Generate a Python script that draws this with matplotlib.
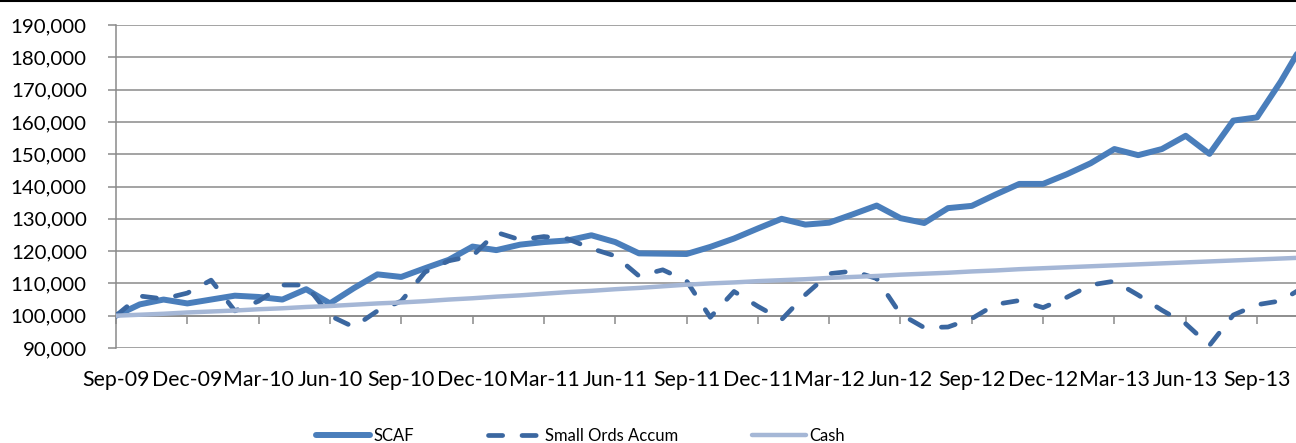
import matplotlib.pyplot as plt
from matplotlib.lines import Line2D
from matplotlib.ticker import FuncFormatter

plt.rcParams['font.family'] = ['Lato', 'DejaVu Sans']

# monthly values, Sep-09 onwards
scaf = [100000, 103500, 105000, 103800, 105000, 106200, 105800, 105000, 108200, 103800,
        108500, 112800, 112000, 114700, 117300, 121400, 120300, 122000, 122800, 123300,
        124900, 122800, 119300, 119200, 119100, 121300, 123900, 127000, 130000, 128200,
        128800, 131400, 134100, 130200, 128700, 133300, 134000, 137500, 140800, 140800,
        143800, 147200, 151600, 149700, 151600, 155700, 150100, 160400, 161400, 172500,
        185000]

small_ords = [100000, 106100, 105200, 107000, 111000, 101500, 104500, 109500, 109500, 100000,
              96500, 101500, 104500, 113500, 117000, 118500, 125800, 123500, 124500, 123800,
              120800, 118500, 112300, 114200, 110800, 99500, 107500, 102900, 98800, 106500,
              113000, 113800, 111500, 100500, 96300, 96500, 99100, 103500, 104700, 102500,
              105700, 109500, 110700, 106400, 101700, 97500, 90800, 100200, 103400, 104600,
              109000]

cash = [100000, 100300, 100600, 101000, 101300, 101600, 102000, 102300, 102700, 103000,
        103400, 103800, 104100, 104500, 105000, 105400, 105900, 106300, 106800, 107300,
        107700, 108200, 108600, 109100, 109600, 110000, 110300, 110700, 111000, 111300,
        111700, 112000, 112300, 112700, 113000, 113300, 113700, 114000, 114400, 114700,
        115000, 115300, 115600, 115900, 116200, 116500, 116800, 117100, 117400, 117700,
        118000]

tick_labels = ['Sep-09', 'Dec-09', 'Mar-10', 'Jun-10', 'Sep-10', 'Dec-10', 'Mar-11',
               'Jun-11', 'Sep-11', 'Dec-11', 'Mar-12', 'Jun-12', 'Sep-12', 'Dec-12',
               'Mar-13', 'Jun-13', 'Sep-13']

grey = '#8a8a8a'

fig = plt.figure(figsize=(12.96, 4.43), dpi=100)
ax = fig.add_axes([116/1296, 1 - 348/443, 1 - 116/1296, (348 - 25)/443])

x = list(range(len(scaf)))
ax.plot(x, scaf, color='#4a7ebb', lw=4.3, solid_joinstyle='round',
        solid_capstyle='round', label='SCAF', zorder=3)
ax.plot(x, small_ords, color='#3b67a0', lw=3.4, ls=(0, (3, 4.1)),
        dash_capstyle='round', dash_joinstyle='round', label='Small Ords Accum', zorder=4)
ax.plot(x, cash, color='#a5b7d6', lw=3.2, solid_capstyle='round',
        label='Cash', zorder=5)

ax.set_xlim(0, 49.64)
ax.set_ylim(90000, 190000)
ax.set_yticks(range(90000, 190001, 10000))
ax.yaxis.set_major_formatter(FuncFormatter(lambda v, p: f'{v:,.0f}'))
ax.grid(axis='y', color=grey, lw=1.1)
ax.set_axisbelow(True)
for s in ['top', 'right', 'bottom']:
    ax.spines[s].set_visible(False)
ax.spines['left'].set_color(grey)
ax.spines['left'].set_linewidth(1.1)
ax.tick_params(axis='y', length=6, width=1.1, color=grey, pad=15, labelsize=14.7)

ticks = list(range(0, len(tick_labels) * 3, 3))
ax.set_xticks(ticks)
ax.set_xticklabels(tick_labels)
ax.tick_params(axis='x', length=0, pad=16, labelsize=15.3)

# horizontal axis crosses at 100,000
sec = ax.secondary_xaxis(0.1)
sec.set_xticks(ticks, labels=[''] * len(ticks))
sec.tick_params(length=5.5, width=1.1, color=grey)
sec.spines['bottom'].set_color(grey)
sec.spines['bottom'].set_linewidth(1.1)

fig.legend(loc='center', bbox_to_anchor=(0.448, 0.016), ncol=3, frameon=False,
           fontsize=12, handlelength=3.25, handletextpad=0.2, columnspacing=4.4,
           borderpad=0, borderaxespad=0)

fig.add_artist(Line2D([0, 1], [1 - 1/443, 1 - 1/443], color='black', lw=1.5,
                      transform=fig.transFigure))

fig.savefig('out.png', dpi=100)
